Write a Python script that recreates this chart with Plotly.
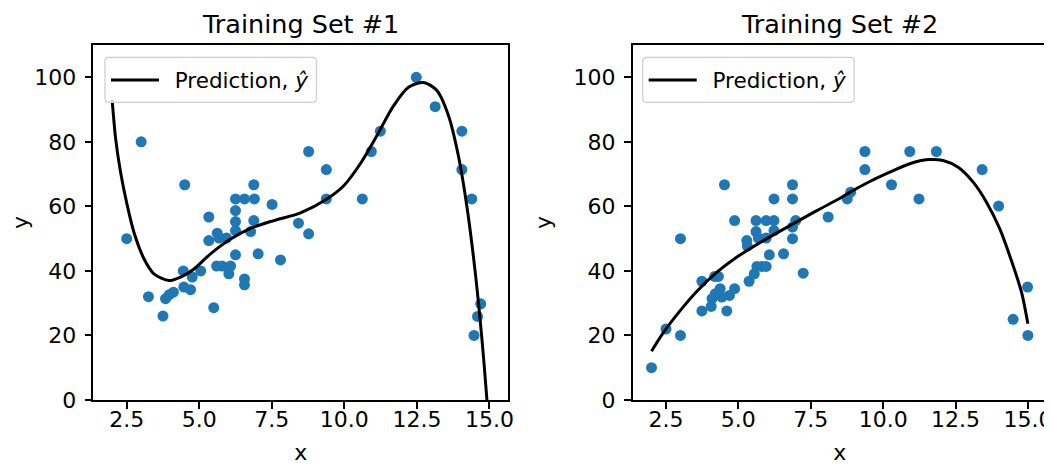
import plotly.graph_objects as go

# Reference canvas is 1052x465; the page body adds an 8px margin, so the
# figure is drawn 8px smaller and all pixel positions are shifted by 8px.
REF_W, REF_H = 1052, 465
OFF = 8
W, H = REF_W - OFF, REF_H - OFF

# ---- Training set #1 (scatter) ----
L_x = [3.0, 2.5, 4.5, 3.25, 3.75, 3.84, 3.96, 4.11, 4.45, 4.47, 4.70, 4.76,
       5.05, 5.5, 5.33, 5.33, 5.62, 5.68, 5.60, 5.79, 6.08, 6.02, 5.94, 6.25,
       6.25, 6.25, 6.25, 6.25, 6.56, 6.90, 6.88, 6.88, 6.77, 6.56, 6.56, 7.03,
       7.51, 7.80, 8.42, 8.77, 8.77, 9.38, 9.38, 10.62, 10.93, 11.24, 12.48, 13.13,
       14.05, 14.05, 14.39, 14.70, 14.59, 14.47]
L_y = [80, 50, 66.7, 32, 26, 31.4, 32.6, 33.4, 40, 35, 34.2, 38.1,
       40, 28.6, 56.7, 49.4, 51.7, 50.2, 41.5, 41.5, 41.5, 39.1, 50.2, 45,
       52.5, 55.3, 58.7, 62.3, 62.3, 62.3, 66.7, 55.6, 52.2, 37.5, 35.7, 45.3,
       60.6, 43.4, 54.8, 51.5, 77, 71.4, 62.3, 62.3, 77, 83.3, 100, 90.9,
       83.3, 71.4, 62.3, 29.8, 25.9, 20]

# ---- Training set #1 (prediction curve) ----
LC_x = [2.0, 2.12, 2.29, 2.52, 2.75, 3.10, 3.44, 3.96, 4.36, 4.82, 5.39, 6.08,
        6.77, 7.57, 8.49, 9.40, 9.98, 10.55, 11.12, 11.70, 12.21, 12.73, 13.19,
        13.59, 13.93, 14.22, 14.51, 14.74, 14.91, 15.0]
LC_y = [93, 80.9, 70.6, 60.3, 52, 43.7, 39.1, 37, 38.1, 40.6, 45.3, 49.9,
        53.2, 55.6, 58, 62.3, 66.4, 73.2, 81.9, 91.2, 96.9, 98.4, 95.9,
        88.1, 75.7, 60.2, 39.6, 19, 0.4, -12]

# ---- Training set #2 (scatter) ----
R_x = [2.0, 2.5, 3.0, 3.0, 3.74, 3.74, 4.06, 4.09, 4.20, 4.18, 4.31, 4.37,
       4.43, 4.52, 4.60, 4.69, 4.87, 4.87, 5.29, 5.31, 5.37, 5.55, 5.64, 5.61,
       5.61, 5.69, 5.81, 5.96, 5.96, 5.96, 6.07, 6.23, 6.23, 6.23, 6.56, 6.87,
       6.87, 6.87, 6.87, 6.98, 7.24, 8.10, 8.76, 8.88, 9.37, 9.37, 10.29, 10.92,
       11.24, 11.84, 13.42, 13.99, 14.49, 14.99, 15.0]
R_y = [10, 22, 20, 50, 27.6, 36.8, 29, 31.4, 32.9, 38.3, 38.3, 34.5,
       31.9, 66.7, 27.6, 32.4, 34.5, 55.6, 49.4, 47.7, 36.8, 39.1, 41.4, 55.6,
       52.2, 50.2, 41.4, 41.4, 55.6, 50.2, 45, 55.6, 52.5, 62.3, 45.3, 66.7,
       62.3, 50, 53.6, 55.6, 39.3, 56.7, 62.3, 64.4, 71.4, 77, 66.7, 77,
       62.3, 77, 71.4, 60.1, 25, 35, 20]

# ---- Training set #2 (prediction curve) ----
RC_x = [2.0, 2.42, 2.99, 3.57, 4.26, 4.95, 5.87, 6.79, 7.71, 8.51, 8.86, 9.54,
        10.23, 10.92, 11.56, 12.07, 12.59, 13.11, 13.57, 14.03, 14.43, 14.78, 15.0]
RC_y = [15.1, 21, 27.7, 33.7, 39.6, 44.3, 49.4, 54.1, 58.7, 62.5, 64.4, 67.7,
        70.6, 73.2, 74.5, 74.2, 72.1, 67.5, 61.3, 53, 43.2, 33.4, 23.6]

TITLES = ["Training Set #1", "Training Set #2"]
LEGEND_LABEL = "\u2002Prediction, <i>ŷ</i>"
X_TICKS = [2.5, 5.0, 7.5, 10.0, 12.5, 15.0]
Y_TICKS = [0, 20, 40, 60, 80, 100]

FONT = "DejaVu Sans"
BLUE = "#1f77b4"


def px(x):
    """reference x pixel -> paper fraction"""
    return (x - OFF) / W


def py(y):
    """reference y pixel (from top) -> paper fraction"""
    return 1 - (y - OFF) / H


fig = go.Figure()

fig.add_trace(go.Scatter(x=L_x, y=L_y, mode="markers", xaxis="x", yaxis="y",
                         marker=dict(color=BLUE, size=11, line=dict(width=0)),
                         showlegend=False))
fig.add_trace(go.Scatter(x=LC_x, y=LC_y, mode="lines", xaxis="x", yaxis="y",
                         line=dict(color="black", width=3, shape="spline", smoothing=0.8),
                         name=LEGEND_LABEL, legend="legend"))
fig.add_trace(go.Scatter(x=R_x, y=R_y, mode="markers", xaxis="x2", yaxis="y2",
                         marker=dict(color=BLUE, size=11, line=dict(width=0)),
                         showlegend=False))
fig.add_trace(go.Scatter(x=RC_x, y=RC_y, mode="lines", xaxis="x2", yaxis="y2",
                         line=dict(color="black", width=3, shape="spline", smoothing=0.8),
                         name=LEGEND_LABEL, legend="legend2"))

ydom = [py(400), py(45)]
xdom1 = [px(93.3), px(508.3)]
xdom2 = [px(632.7), px(1046.7)]

axis_common = dict(
    showline=True, linecolor="black", linewidth=1.5, mirror=True,
    ticks="outside", ticklen=7, tickwidth=1.5, tickcolor="black",
    showgrid=False, zeroline=False, automargin=False,
    tickfont=dict(family=FONT, size=22, color="black"),
)

xa = dict(axis_common, range=[1.35, 15.65], tickvals=X_TICKS, tickformat=".1f",
          ticklabelstandoff=-8, ticklabeloverflow="allow",
          title=dict(text="x", font=dict(family=FONT, size=22, color="black"), standoff=20))
ya = dict(axis_common, range=[0, 110], tickvals=Y_TICKS, ticklabelstandoff=4,
          title=dict(text="y", font=dict(family=FONT, size=22, color="black"), standoff=16))

legend_common = dict(
    xanchor="left", yanchor="middle", itemwidth=48,
    bgcolor="rgba(0,0,0,0)", borderwidth=0,
    font=dict(family=FONT, size=21.5, color="black"),
)


def rounded_box(x0, y0, x1, y1, r):
    rx, ry = r / W, r / H
    X0, X1, Y0, Y1 = px(x0), px(x1), py(y0), py(y1)
    return (f"M{X0 + rx},{Y0} L{X1 - rx},{Y0} Q{X1},{Y0} {X1},{Y0 - ry} "
            f"L{X1},{Y1 + ry} Q{X1},{Y1} {X1 - rx},{Y1} L{X0 + rx},{Y1} "
            f"Q{X0},{Y1} {X0},{Y1 + ry} L{X0},{Y0 - ry} Q{X0},{Y0} {X0 + rx},{Y0} Z")


shapes = []
for bx in (105, 642.7):
    shapes.append(dict(type="path", xref="paper", yref="paper", layer="above",
                       path=rounded_box(bx, 57.3, bx + 211.5, 102.3, 4),
                       fillcolor="rgba(255,255,255,0.8)",
                       line=dict(color="#cccccc", width=1.2)))

fig.update_layout(
    width=W, height=H,
    margin=dict(l=0, r=0, t=0, b=0),
    paper_bgcolor="white", plot_bgcolor="white",
    font=dict(family=FONT, color="black"),
    xaxis=dict(xa, domain=xdom1, anchor="y"),
    yaxis=dict(ya, domain=ydom, anchor="x"),
    xaxis2=dict(xa, domain=xdom2, anchor="y2"),
    yaxis2=dict(ya, domain=ydom, anchor="x2"),
    legend=dict(legend_common, x=px(106), y=py(80)),
    legend2=dict(legend_common, x=px(643.7), y=py(80)),
    shapes=shapes,
    annotations=[
        dict(text=TITLES[0], x=sum(xdom1) / 2, y=py(24), xref="paper", yref="paper",
             xanchor="center", yanchor="middle", showarrow=False,
             font=dict(family=FONT, size=25.5, color="black")),
        dict(text=TITLES[1], x=sum(xdom2) / 2, y=py(24), xref="paper", yref="paper",
             xanchor="center", yanchor="middle", showarrow=False,
             font=dict(family=FONT, size=25.5, color="black")),
    ],
)

fig.write_html("out.html")
